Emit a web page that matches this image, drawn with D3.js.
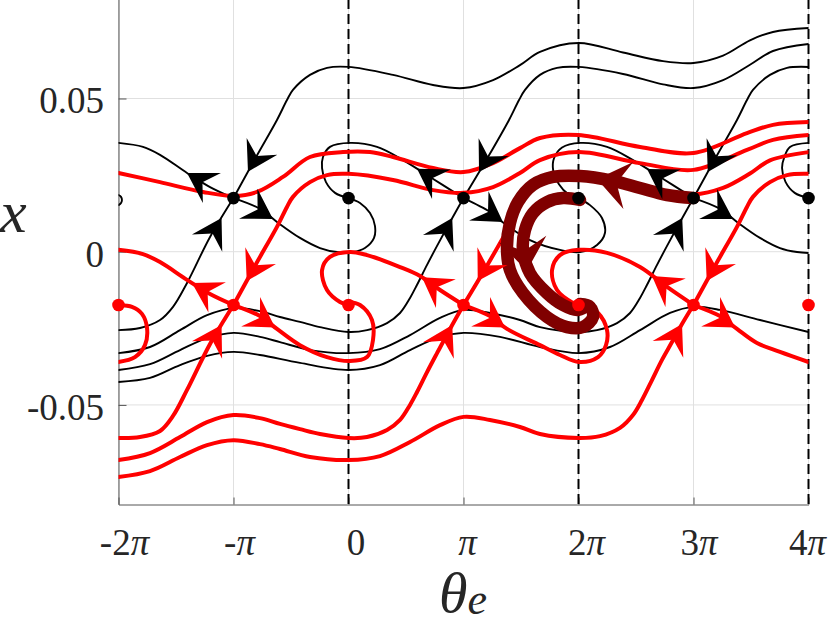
<!DOCTYPE html>
<html><head><meta charset="utf-8">
<script src="https://cdn.jsdelivr.net/npm/d3@7/dist/d3.min.js"></script>
<style>body{margin:0;background:#fff}svg{display:block}</style>
</head><body><svg id="c" width="831" height="626"></svg>
<script>
// ---------- DATA (theta in units of pi, x) ----------
const xTicks = [-2, -1, 0, 1, 2, 3, 4];
const xTickLabels = [["-2","π"], ["-","π"], ["0",""], ["","π"], ["2","π"], ["3","π"], ["4","π"]];
const yTicks = [-0.05, 0, 0.05];
const yTickLabels = ["-0.05", "0", "0.05"];
const dashedAt = [0, 2, 4];

// black system
const blackA = [[-1,0.0175],[-0.804,0.0309],[-0.622,0.0430],[-0.535,0.0495],[-0.483,0.0528],[-0.335,0.0577],[-0.187,0.0600],[0,0.0603],[0.387,0.0577],[0.735,0.0544],[1,0.0534],[1.257,0.0560],[1.491,0.0609],[1.665,0.0652],[2,0.0681],[2.387,0.0650],[2.735,0.0622],[3,0.0616],[3.257,0.0640],[3.491,0.0690],[3.691,0.0717],[4,0.0730]];
const blackB = [[1,0.0175],[1.213,0.0309],[1.396,0.0430],[1.483,0.0495],[1.535,0.0528],[1.665,0.0577],[1.813,0.0600],[2,0.0603],[2.387,0.0580],[2.735,0.0546],[3,0.0534],[3.257,0.0560],[3.491,0.0610],[3.691,0.0655],[4,0.0678]];
const blackC = [[3,0.0175],[3.196,0.0309],[3.378,0.0430],[3.465,0.0495],[3.517,0.0528],[3.665,0.0577],[3.813,0.0600],[4,0.0603]];
const blackUulM1 = [[-2,0.0355],[-1.787,0.0342],[-1.639,0.0316],[-1.404,0.0257],[-1.204,0.0211],[-1,0.0175]];
const blackUul1 = [[1,0.0175],[0.709,0.0244],[0.474,0.0299],[0.248,0.0342],[0.013,0.0355],[-0.161,0.0342],[-0.222,0.0309],[-0.230,0.0273],[-0.196,0.0227],[-0.117,0.0192],[0,0.0175]];
const blackUul3 = [[3,0.0175],[2.709,0.0244],[2.474,0.0299],[2.248,0.0342],[2.013,0.0355],[1.857,0.0340],[1.787,0.0305],[1.780,0.0265],[1.830,0.0220],[1.910,0.0188],[2,0.0175]];
const blackUul5 = [[4,0.0355],[3.839,0.0342],[3.790,0.0309],[3.770,0.0273],[3.800,0.0228],[3.880,0.0192],[4,0.0175]];
const blackUlrM1 = [[-1,0.0175],[-0.770,0.0140],[-0.622,0.0097],[-0.422,0.0045],[-0.248,0.0012],[-0.100,-0.0001],[0.039,-0.0001],[0.143,0.0012],[0.222,0.0045],[0.230,0.0084],[0.187,0.0126],[0.100,0.0159],[0,0.0175]];
const blackUlr1 = [[1,0.0175],[1.230,0.0130],[1.317,0.0103],[1.578,0.0038],[1.839,0.0006],[2.013,-0.0001],[2.161,0.0022],[2.230,0.0061],[2.204,0.0110],[2.100,0.0152],[2,0.0175]];
const blackUlr3 = [[3,0.0175],[3.230,0.0140],[3.378,0.0097],[3.578,0.0045],[3.752,0.0012],[3.900,-0.0001],[4,-0.0004]];
const blackSllM1 = [[-2,-0.0256],[-1.813,-0.0249],[-1.639,-0.0223],[-1.526,-0.0180],[-1.404,-0.0102],[-1.204,0.0048],[-1,0.0175]];
const blackP2 = [[-2,-0.0331],[-1.726,-0.0311],[-1.465,-0.0256],[-1.230,-0.0207],[-1,-0.0184],[-0.770,-0.0194],[-0.596,-0.0213],[-0.422,-0.0229],[-0.248,-0.0246],[0,-0.0262],[0.161,-0.0256],[0.335,-0.0233],[0.448,-0.0200],[0.535,-0.0151],[0.596,-0.0108],[0.683,-0.0043],[0.770,0.0019],[0.883,0.0097],[1,0.0175]];
const blackP3 = [[-2,-0.0386],[-1.726,-0.0367],[-1.465,-0.0321],[-1.230,-0.0282],[-1,-0.0265],[-0.770,-0.0278],[-0.596,-0.0295],[-0.335,-0.0321],[0,-0.0331],[0.274,-0.0318],[0.535,-0.0272],[0.796,-0.0216],[1,-0.0190],[1.230,-0.0200],[1.491,-0.0223],[1.665,-0.0246],[2,-0.0262],[2.161,-0.0256],[2.335,-0.0233],[2.448,-0.0200],[2.535,-0.0151],[2.596,-0.0108],[2.683,-0.0043],[2.770,0.0019],[2.883,0.0097],[3,0.0175]];
const blackP4 = [[-2,-0.0425],[-1.726,-0.0412],[-1.465,-0.0370],[-1.230,-0.0340],[-1,-0.0327],[-0.770,-0.0337],[-0.422,-0.0363],[0,-0.0386],[0.274,-0.0370],[0.535,-0.0321],[0.796,-0.0278],[1,-0.0265],[1.317,-0.0278],[1.665,-0.0311],[2,-0.0331],[2.274,-0.0311],[2.535,-0.0256],[2.796,-0.0200],[3,-0.0180],[3.230,-0.0190],[3.578,-0.0223],[4,-0.0262]];
const blackSpiralM2 = [[-2,0.0185],[-1.978,0.0179],[-1.970,0.0169],[-1.978,0.0159],[-2,0.0152]];

// red system
const redR0 = [[-2,0.0257],[-1.639,0.0227],[-1.265,0.0195],[-1,0.0182],[-0.796,0.0195],[-0.570,0.0244],[-0.335,0.0309],[-0.048,0.0325],[0.187,0.0325],[0.387,0.0309],[0.735,0.0273],[1,0.0260],[1.257,0.0289],[1.491,0.0338],[1.665,0.0371],[2,0.0381],[2.535,0.0342],[3,0.0322],[3.465,0.0387],[3.691,0.0414],[4,0.0423]];
const redA = [[-1,-0.0174],[-0.804,-0.0040],[-0.622,0.0081],[-0.535,0.0146],[-0.483,0.0179],[-0.335,0.0227],[-0.187,0.0250],[0,0.0254],[0.387,0.0234],[0.735,0.0201],[1,0.0192],[1.257,0.0211],[1.491,0.0257],[1.665,0.0299],[2,0.0325],[2.535,0.0289],[3,0.0267],[3.465,0.0332],[3.691,0.0365],[4,0.0381]];
const redB = [[1,-0.0174],[1.213,-0.0040],[1.396,0.0081],[1.483,0.0146],[1.535,0.0179],[1.665,0.0227],[1.813,0.0250],[2,0.0254],[2.387,0.0232],[2.735,0.0199],[3,0.0187],[3.257,0.0208],[3.491,0.0255],[3.665,0.0298],[4,0.0325]];
const redC = [[3,-0.0174],[3.196,-0.0040],[3.378,0.0081],[3.465,0.0146],[3.517,0.0179],[3.665,0.0227],[3.813,0.0250],[4,0.0254]];
const redUulM1 = [[-1,-0.0174],[-1.204,-0.0138],[-1.404,-0.0092],[-1.639,-0.0034],[-1.787,-0.0008],[-2,0.0006]];
const redUul1 = [[1,-0.0174],[0.796,-0.0125],[0.622,-0.0079],[0.448,-0.0050],[0.161,-0.0011],[0.013,-0.0001],[-0.161,-0.0017],[-0.230,-0.0060],[-0.187,-0.0125],[-0.074,-0.0164],[0,-0.0174]];
const redUul3 = [[3,-0.0174],[2.770,-0.0115],[2.535,-0.0050],[2.248,-0.0004],[2.004,0.0006],[1.839,-0.0011],[1.770,-0.0060],[1.813,-0.0125],[1.952,-0.0167],[2,-0.0174]];
const redUlrM1 = [[-1,-0.0174],[-0.770,-0.0210],[-0.622,-0.0252],[-0.422,-0.0305],[-0.187,-0.0344],[0.013,-0.0357],[0.161,-0.0344],[0.213,-0.0288],[0.204,-0.0223],[0.100,-0.0174],[0,-0.0164]];
const redUlr1 = [[1,-0.0174],[1.230,-0.0210],[1.378,-0.0252],[1.665,-0.0305],[1.839,-0.0337],[2.004,-0.0360],[2.170,-0.0344],[2.239,-0.0305],[2.248,-0.0256],[2.170,-0.0200],[2.057,-0.0177]];
const redUlr3 = [[3,-0.0174],[3.230,-0.0210],[3.378,-0.0252],[3.552,-0.0298],[3.752,-0.0327],[4,-0.0360]];
const redSllM1 = [[-2,-0.0608],[-1.813,-0.0605],[-1.639,-0.0585],[-1.526,-0.0536],[-1.404,-0.0451],[-1.204,-0.0301],[-1,-0.0174]];
const redP2 = [[-2,-0.0680],[-1.726,-0.0657],[-1.465,-0.0605],[-1.230,-0.0556],[-1,-0.0533],[-0.770,-0.0543],[-0.596,-0.0562],[-0.422,-0.0579],[-0.248,-0.0595],[0,-0.0608],[0.161,-0.0605],[0.335,-0.0582],[0.448,-0.0549],[0.535,-0.0500],[0.596,-0.0458],[0.683,-0.0393],[0.770,-0.0331],[0.883,-0.0252],[1,-0.0174]];
const redP3 = [[-2,-0.0735],[-1.726,-0.0716],[-1.465,-0.0670],[-1.230,-0.0631],[-1,-0.0615],[-0.770,-0.0628],[-0.596,-0.0644],[-0.335,-0.0670],[0,-0.0680],[0.274,-0.0667],[0.535,-0.0621],[0.796,-0.0566],[1,-0.0539],[1.230,-0.0549],[1.491,-0.0572],[1.665,-0.0595],[2,-0.0608],[2.187,-0.0602],[2.361,-0.0575],[2.474,-0.0533],[2.552,-0.0484],[2.639,-0.0419],[2.726,-0.0353],[2.813,-0.0295],[2.900,-0.0236],[3,-0.0174]];
const redSpiralM2 = [[-2,-0.0360],[-1.857,-0.0344],[-1.770,-0.0305],[-1.752,-0.0249],[-1.796,-0.0203],[-1.883,-0.0180],[-2,-0.0174]];

// transition trajectories (dark red)
const darkOuter = [[3,0.0175],[2.770,0.0185],[2.535,0.0208],[2.300,0.0231],[2.013,0.0247],[1.778,0.0244],[1.604,0.0218],[1.474,0.0162],[1.404,0.0094],[1.378,0.0015],[1.404,-0.0060],[1.517,-0.0135],[1.726,-0.0213],[1.900,-0.0246],[2.039,-0.0246],[2.126,-0.0213],[2.100,-0.0180],[2.013,-0.0171]];
const darkInner = [[2.013,0.0169],[1.865,0.0175],[1.726,0.0162],[1.604,0.0126],[1.535,0.0071],[1.517,0.0006],[1.578,-0.0070],[1.726,-0.0135],[1.865,-0.0174],[1.987,-0.0190],[2.057,-0.0180]];

// equilibria
const blackEq = [[-1,0.0175],[0,0.0175],[1,0.0175],[2,0.0175],[3,0.0175],[4,0.0175]];
const redEq = [[-2,-0.0174],[-1,-0.0174],[0,-0.0174],[1,-0.0174],[2,-0.0174],[3,-0.0174],[4,-0.0174]];

// arrowheads: [tip, point behind tip]
const blackArrows = [
  [[-1.404,0.0257],[-1.187,0.0208]], [[-0.874,0.0261],[-0.761,0.0338]], [[-0.657,0.0107],[-0.857,0.0153]], [[-1.104,0.0110],[-1.239,0.0022]],
  [[0.596,0.0271],[0.813,0.0219]], [[1.135,0.0260],[1.257,0.0338]], [[1.343,0.0097],[1.143,0.0147]], [[0.902,0.0110],[0.774,0.0022]],
  [[2.596,0.0270],[2.813,0.0219]], [[3.124,0.0260],[3.240,0.0338]], [[3.343,0.0107],[3.143,0.0152]], [[2.902,0.0110],[2.774,0.0022]]
];
const redArrows = [
  [[-1.361,-0.0102],[-1.152,-0.0147]], [[-0.885,-0.0096],[-0.770,-0.0017]], [[-0.639,-0.0247],[-0.830,-0.0201]], [[-1.104,-0.0239],[-1.231,-0.0321]],
  [[0.639,-0.0083],[0.848,-0.0137]], [[1.124,-0.0096],[1.248,-0.0017]], [[1.361,-0.0247],[1.170,-0.0201]], [[0.902,-0.0239],[0.784,-0.0321]],
  [[2.639,-0.0079],[2.848,-0.0135]], [[3.115,-0.0096],[3.230,-0.0017]], [[3.361,-0.0247],[3.170,-0.0201]], [[2.900,-0.0236],[2.776,-0.0320]]
];
const darkArrows = [
  [[2.161,0.0237],[2.404,0.0218]], [[1.550,-0.0062],[1.512,0.0045]]
];

// ---------- DRAWING ----------
const svg = d3.select("#c");
const x = d3.scaleLinear().domain([-2, 4]).range([118.5, 808.5]);
const y = d3.scaleLinear().domain([-0.0825, 0.0825]).range([504.5, -1.1]);
const FONT = "'Liberation Serif','Times New Roman',serif";
const TXT = "#262626";

svg.append("rect").attr("width", 831).attr("height", 626).attr("fill", "#fff");

svg.append("defs").append("clipPath").attr("id", "plot")
  .append("rect").attr("x", x(-2)).attr("y", -5).attr("width", x(4) - x(-2)).attr("height", y(-0.0825) + 5);

// grid
const grid = svg.append("g").attr("stroke", "#e0e0e0").attr("stroke-width", 1);
grid.selectAll("line.v").data(xTicks).join("line").attr("class", "v")
  .attr("x1", d => x(d)).attr("x2", d => x(d)).attr("y1", y(0.0825)).attr("y2", y(-0.0825));
grid.selectAll("line.h").data(yTicks).join("line").attr("class", "h")
  .attr("x1", x(-2)).attr("x2", x(4)).attr("y1", d => y(d)).attr("y2", d => y(d));

// axes
const axStyle = g => { g.selectAll("path,line").attr("stroke", "#555").attr("stroke-width", 1); g.selectAll("text").remove(); };
svg.append("g").attr("transform", `translate(0,${y(-0.0825)})`)
  .call(d3.axisBottom(x).tickValues(xTicks).tickSize(-7).tickSizeOuter(0)).call(axStyle);
svg.append("g").attr("transform", `translate(${x(-2)},0)`)
  .call(d3.axisLeft(y).tickValues(yTicks).tickSize(-8).tickSizeOuter(0)).call(axStyle);

// dashed lines
svg.append("g").selectAll("line").data(dashedAt).join("line")
  .attr("x1", d => x(d)).attr("x2", d => x(d)).attr("y1", y(0.0825)).attr("y2", y(-0.0825))
  .attr("stroke", "#000").attr("stroke-width", 2).attr("stroke-dasharray", "10,5");

const line = d3.line().x(d => x(d[0])).y(d => y(d[1])).curve(d3.curveCatmullRom.alpha(0.5));
const plot = svg.append("g").attr("clip-path", "url(#plot)");

const blackCurves = [blackA, blackB, blackC, blackUulM1, blackUul1, blackUul3, blackUul5, blackUlrM1, blackUlr1, blackUlr3, blackSllM1, blackP2, blackP3, blackP4, blackSpiralM2];
const redCurves = [redR0, redA, redB, redC, redUulM1, redUul1, redUul3, redUlrM1, redUlr1, redUlr3, redSllM1, redP2, redP3, redSpiralM2];
const darkCurves = [darkOuter, darkInner];

plot.append("g").selectAll("path").data(blackCurves).join("path").attr("d", line)
  .attr("fill", "none").attr("stroke", "#000").attr("stroke-width", 1.9).attr("stroke-linejoin", "round").attr("stroke-linecap", "round");
plot.append("g").selectAll("path").data(redCurves).join("path").attr("d", line)
  .attr("fill", "none").attr("stroke", "#ff0000").attr("stroke-width", 4).attr("stroke-linejoin", "round").attr("stroke-linecap", "round");

svg.append("g").selectAll("circle").data(redEq).join("circle")
  .attr("cx", d => x(d[0])).attr("cy", d => y(d[1])).attr("r", 6.3).attr("fill", "#ff0000");

plot.append("g").selectAll("path").data(darkCurves).join("path").attr("d", line)
  .attr("fill", "none").attr("stroke", "#800000").attr("stroke-width", 12.5).attr("stroke-linejoin", "round").attr("stroke-linecap", "round");

function arrowPath(a, L, Wd) {
  const tx = x(a[0][0]), ty = y(a[0][1]), bx = x(a[1][0]), by = y(a[1][1]);
  let ux = tx - bx, uy = ty - by; const n = Math.hypot(ux, uy); ux /= n; uy /= n;
  const nx = -uy, ny = ux;
  const cx = tx - L * ux, cy = ty - L * uy;
  const w1 = [cx + nx * Wd / 2, cy + ny * Wd / 2], w2 = [cx - nx * Wd / 2, cy - ny * Wd / 2];
  const nt = [tx - 0.62 * L * ux, ty - 0.62 * L * uy];
  return `M${tx},${ty}L${w1[0]},${w1[1]}L${nt[0]},${nt[1]}L${w2[0]},${w2[1]}Z`;
}
svg.append("g").selectAll("path").data(blackArrows).join("path").attr("d", a => arrowPath(a, 29, 35)).attr("fill", "#000");
svg.append("g").selectAll("path").data(redArrows).join("path").attr("d", a => arrowPath(a, 29, 35)).attr("fill", "#ff0000");
svg.append("g").selectAll("path").data(darkArrows).join("path").attr("d", a => arrowPath(a, 32, 48)).attr("fill", "#800000");

svg.append("g").selectAll("circle").data(blackEq).join("circle")
  .attr("cx", d => x(d[0])).attr("cy", d => y(d[1])).attr("r", 6.3).attr("fill", "#000");

// tick labels
const xLabelShift = [6, 6, 7.5, 4, 8, 5.5, -1];
const xl = svg.append("g").attr("font-family", FONT).attr("font-size", 37).attr("fill", TXT);
xTicks.forEach((t, i) => {
  const tx = xl.append("text").attr("x", x(t) + xLabelShift[i]).attr("y", 555).attr("text-anchor", "middle");
  if (xTickLabels[i][0]) tx.append("tspan").text(xTickLabels[i][0]);
  if (xTickLabels[i][1]) tx.append("tspan").attr("font-style", "italic").text(xTickLabels[i][1]);
});
svg.append("g").attr("font-family", FONT).attr("font-size", 37).attr("fill", TXT)
  .selectAll("text").data(yTicks).join("text")
  .attr("x", 104).attr("y", d => y(d) + 15).attr("text-anchor", "end")
  .text((d, i) => yTickLabels[i]);

// axis titles
svg.append("text").attr("x", 0).attr("y", 232).attr("font-family", FONT).attr("font-style", "italic")
  .attr("font-size", 60).attr("fill", TXT).text("x");
const xt = svg.append("text").attr("x", 439).attr("y", 612).attr("font-family", FONT).attr("font-style", "italic").attr("fill", TXT);
xt.append("tspan").attr("font-size", 58).text("θ");
xt.append("tspan").attr("font-size", 44).attr("dy", 2).text("e");
</script></body></html>
